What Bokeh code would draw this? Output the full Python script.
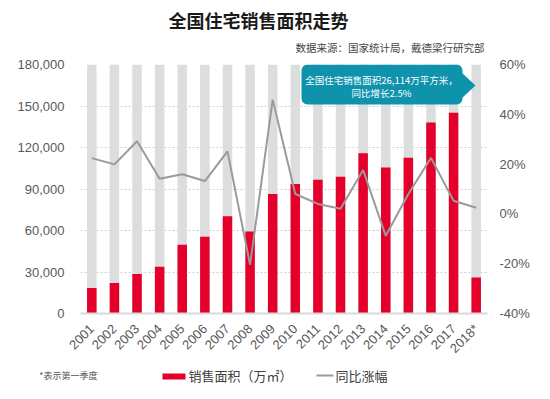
from math import pi
from bokeh.plotting import figure
from bokeh.layouts import column
from bokeh.models import (ColumnDataSource, Range1d, FactorRange, LinearAxis, FixedTicker,
                          NumeralTickFormatter, PrintfTickFormatter, Label, BoxAnnotation,
                          PolyAnnotation)
from bokeh.embed import file_html
from bokeh.resources import INLINE

years = ["2001", "2002", "2003", "2004", "2005", "2006", "2007", "2008", "2009",
         "2010", "2011", "2012", "2013", "2014", "2015", "2016", "2017", "2018*"]
sales_area = [18500, 22100, 28600, 33800, 49700, 55400, 70300, 59300, 86400,
              93600, 96700, 98900, 115900, 105600, 112600, 138000, 145200, 26100]
yoy_growth = [22.4, 19.9, 29.2, 14.1, 15.9, 13.2, 25.1, -20.4, 45.9,
              8.0, 4.0, 2.1, 17.6, -8.8, 8.0, 22.5, 5.3, 2.5]
left_ticks = [0, 30000, 60000, 90000, 120000, 150000, 180000]
right_ticks = [-40, -20, 0, 20, 40, 60]

title_text = "全国住宅销售面积走势"
source_text = "数据来源：国家统计局，戴德梁行研究部"
note_text = "*表示第一季度"
callout_line1 = "全国住宅销售面积26,114万平方米，"
callout_line2 = "同比增长2.5%"
bar_label = "销售面积（万㎡）"
line_label = "同比涨幅"

CJK = "Noto Sans CJK SC"
LAT = "Liberation Sans"
RED = "#e4002b"
GRAYBAR = "#dcdddf"
LINEGRAY = "#9a9a9a"
TEAL = "#0f93ad"
TXT = "#595959"
W = 542
BL, BR = 80, 55          # shared left/right borders so all frames line up

TOP_H = 56
BOT_H = 35


def strip(height):
    f = figure(width=W, height=height, output_backend="svg", toolbar_location=None,
               x_axis_location=None, y_axis_location=None,
               min_border_left=BL, min_border_right=BR, min_border_top=0, min_border_bottom=0,
               x_range=Range1d(0, 1), y_range=Range1d(0, height))
    f.outline_line_color = None
    f.grid.visible = False
    return f


# ---- header (title + source) ----
top = strip(TOP_H)
top.add_layout(Label(x=178, y=37, x_units="screen", y_units="screen", text=title_text,
                     text_font=CJK, text_font_size="18px", text_font_style="bold",
                     text_color="#1a1a1a", text_align="center", text_baseline="middle"))
top.add_layout(Label(x=404, y=9, x_units="screen", y_units="screen", text=source_text,
                     text_font=CJK, text_font_size="10.5px", text_color="#444444",
                     text_align="right", text_baseline="middle"))

# ---- main chart ----
src = ColumnDataSource(dict(x=years, area=sales_area, growth=yoy_growth,
                            bg=[left_ticks[-1]] * len(years)))

p = figure(width=W, height=308, output_backend="svg", toolbar_location=None,
           x_range=FactorRange(*years, range_padding=0),
           y_range=Range1d(left_ticks[0], left_ticks[-1]),
           min_border_left=BL, min_border_right=BR, min_border_top=8, min_border_bottom=50)
p.outline_line_color = None
p.extra_y_ranges = {"pct": Range1d(right_ticks[0], right_ticks[-1])}

p.vbar(x="x", top="bg", bottom=0, width=0.42, source=src, color=GRAYBAR, line_color=None)
p.vbar(x="x", top="area", bottom=0, width=0.42, source=src, color=RED, line_color=None)
p.line(x="x", y="growth", source=src, y_range_name="pct", color=LINEGRAY, line_width=2)

p.xgrid.grid_line_color = None
p.ygrid.grid_line_color = "#cfcfcf"
p.ygrid.grid_line_dash = "2 2"
p.ygrid.ticker = FixedTicker(ticks=left_ticks)


def style_axis(ax, size, standoff):
    ax.axis_line_color = None
    ax.major_tick_line_color = None
    ax.minor_tick_line_color = None
    ax.major_tick_out = 0
    ax.major_tick_in = 0
    ax.minor_tick_out = 0
    ax.major_label_text_font = LAT
    ax.major_label_text_font_size = size
    ax.major_label_text_color = TXT
    ax.major_label_standoff = standoff


xa = p.xaxis[0]
style_axis(xa, "13px", 13)
xa.axis_line_color = "#d9d9d9"
xa.axis_line_width = 2
xa.major_label_orientation = pi / 4

ya = p.yaxis[0]
style_axis(ya, "13px", 16)
ya.ticker = FixedTicker(ticks=left_ticks)
ya.formatter = NumeralTickFormatter(format="0,0")

ra = LinearAxis(y_range_name="pct", ticker=FixedTicker(ticks=right_ticks),
                formatter=PrintfTickFormatter(format="%d%%"))
style_axis(ra, "13px", 12)
p.add_layout(ra, "right")

# callout (inside the plot frame)
p.add_layout(BoxAnnotation(left=221, right=382, top=249, bottom=209,
                           left_units="screen", right_units="screen",
                           top_units="screen", bottom_units="screen",
                           fill_color=TEAL, fill_alpha=1, line_color=None, border_radius=6))
p.add_layout(PolyAnnotation(xs=[381, 395, 381], ys=[241, 228, 215],
                            xs_units="screen", ys_units="screen",
                            fill_color=TEAL, fill_alpha=1, line_color=None))
p.add_layout(Label(x=301, y=234, x_units="screen", y_units="screen", text=callout_line1,
                   text_font=CJK, text_font_size="9.5px", text_color="white",
                   text_align="center", text_baseline="middle"))
p.add_layout(Label(x=301, y=221, x_units="screen", y_units="screen", text=callout_line2,
                   text_font=CJK, text_font_size="9.5px", text_color="white",
                   text_align="center", text_baseline="middle"))

# ---- footer (note + legend) ----
bot = figure(width=W, height=BOT_H, output_backend="svg", toolbar_location=None,
             x_axis_location=None, y_axis_location="left",
             min_border_left=BL, min_border_right=BR, min_border_top=0, min_border_bottom=0,
             x_range=Range1d(0, 1), y_range=Range1d(0, BOT_H))
bot.outline_line_color = None
bot.grid.visible = False
na = bot.yaxis[0]
style_axis(na, "9px", -17)
na.major_label_text_font = CJK
na.major_label_text_color = "#555555"
na.ticker = FixedTicker(ticks=[24])
na.major_label_overrides = {24: note_text}

bot.add_layout(BoxAnnotation(left=82, right=105, bottom=20, top=26,
                             left_units="screen", right_units="screen",
                             top_units="screen", bottom_units="screen",
                             fill_color=RED, fill_alpha=1, line_color=None))
bot.add_layout(Label(x=108, y=24, x_units="screen", y_units="screen", text=bar_label,
                     text_font=CJK, text_font_size="13px", text_color="#404040",
                     text_align="left", text_baseline="middle"))
bot.add_layout(BoxAnnotation(left=236, right=253, bottom=23, top=25,
                             left_units="screen", right_units="screen",
                             top_units="screen", bottom_units="screen",
                             fill_color=LINEGRAY, fill_alpha=1, line_color=None))
bot.add_layout(Label(x=255, y=24, x_units="screen", y_units="screen", text=line_label,
                     text_font=CJK, text_font_size="13px", text_color="#404040",
                     text_align="left", text_baseline="middle"))

layout = column(top, p, bot, spacing=0)
open("out.html", "w").write(file_html(layout, INLINE))
